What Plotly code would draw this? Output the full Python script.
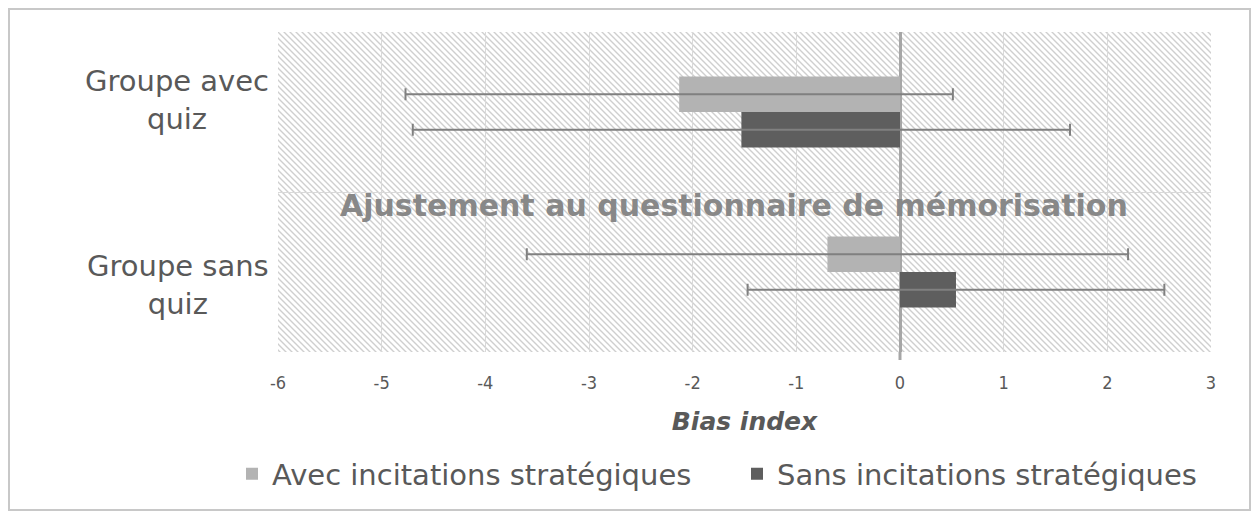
import base64
import plotly.graph_objects as go

# ---- data ----
categories = ["Groupe avec quiz", "Groupe sans quiz"]
category_labels = ["Groupe avec<br>quiz", "Groupe sans<br>quiz"]
series_names = ["Avec incitations stratégiques", "Sans incitations stratégiques"]
avec_values = [-2.13, -0.70]
avec_errors = [2.64, 2.90]
sans_values = [-1.53, 0.54]
sans_errors = [3.17, 2.01]
x_ticks = [-6, -5, -4, -3, -2, -1, 0, 1, 2, 3]
x_tick_labels = ["-6", "-5", "-4", "-3", "-2", "-1", "0", "1", "2", "3"]
chart_title = "Ajustement au questionnaire de mémorisation"
x_title = "Bias index"

# ---- styling ----
# the page body has an 8px margin, so the figure is drawn 8px smaller and offset
OFF = 8
W, H = 1259 - OFF, 513 - OFF
ML, MT = 278 - OFF, 32 - OFF
PW, PH = 933, 320
MR, MB = W - ML - PW, H - MT - PH


def px_x(x):  # reference page pixel -> paper x
    return (x - OFF - ML) / PW


def px_y(y):  # reference page pixel -> paper y
    return (MT + PH - (y - OFF)) / PH


light = "#b3b3b3"
dark = "#5e5e5e"
err_color = "#808080"
text_color = "#595959"

# hatched plot background (decoration)
svg = (
    f'<svg xmlns="http://www.w3.org/2000/svg" width="{PW}" height="{PH}">'
    '<defs><pattern id="p" width="6" height="6" patternUnits="userSpaceOnUse">'
    '<path d="M-1,-1 L7,7 M-1,5 L1,7 M5,-1 L7,1" stroke="#cfcfcf" stroke-width="1.4"/>'
    '</pattern></defs><rect width="100%" height="100%" fill="url(#p)"/></svg>'
)
svg_uri = "data:image/svg+xml;base64," + base64.b64encode(svg.encode()).decode()

fig = go.Figure()
fig.add_trace(go.Bar(
    name=series_names[0], y=categories, x=avec_values, orientation="h",
    marker=dict(color=light, line=dict(width=0)),
    error_x=dict(type="data", array=avec_errors, visible=True,
                 color=err_color, thickness=2, width=6),
))
fig.add_trace(go.Bar(
    name=series_names[1], y=categories, x=sans_values, orientation="h",
    marker=dict(color=dark, line=dict(width=0)),
    error_x=dict(type="data", array=sans_errors, visible=True,
                 color=err_color, thickness=2, width=6),
))

label_shifts = [12, -13]
annotations = []
for cat, lab, ys in zip(categories, category_labels, label_shifts):
    annotations.append(dict(
        x=0, xref="paper", xanchor="right", xshift=-7,
        y=cat, yref="y", yshift=ys, text=lab, showarrow=False, align="center",
        font=dict(family="DejaVu Sans, Arial, sans-serif", size=29, color=text_color),
    ))
annotations.append(dict(
    x=px_x(734), xref="paper", y=px_y(205), yref="paper",
    text="<b>" + chart_title + "</b>", showarrow=False, xanchor="center", yanchor="middle",
    font=dict(family="DejaVu Sans, Arial, sans-serif", size=30, color="#888888"),
))

fig.update_layout(
    width=W, height=H,
    margin=dict(l=ML, r=MR, t=MT, b=MB),
    paper_bgcolor="white",
    plot_bgcolor="rgba(0,0,0,0)",
    barmode="group", bargap=0.556, bargroupgap=0,
    showlegend=True,
    legend=dict(
        orientation="h", x=px_x(232), xanchor="left",
        y=px_y(474), yanchor="middle",
        bgcolor="rgba(0,0,0,0)",
        font=dict(family="DejaVu Sans, sans-serif", size=29, color=text_color),
        itemwidth=30, traceorder="normal",
        entrywidth=460, entrywidthmode="pixels",
    ),
    xaxis=dict(
        range=[x_ticks[0], x_ticks[-1]], tickvals=x_ticks, ticktext=x_tick_labels,
        showgrid=True, gridcolor="#d9d9d9", gridwidth=1,
        zeroline=True, zerolinecolor="#a6a6a6", zerolinewidth=3,
        showline=False, ticks="", ticklabelstandoff=18,
        tickfont=dict(family="Liberation Sans Narrow, DejaVu Sans Condensed, Arial Narrow, sans-serif",
                      size=18, color=text_color),
        title=dict(text="<b><i>" + x_title + "</i></b>", standoff=20,
                   font=dict(family="DejaVu Sans, Arial, sans-serif", size=25, color=text_color)),
    ),
    yaxis=dict(
        type="category", categoryorder="array", categoryarray=categories,
        autorange="reversed", tickson="boundaries",
        showgrid=True, gridcolor="#d9d9d9", gridwidth=1,
        showticklabels=False, ticks="", showline=False, zeroline=False,
    ),
    images=[dict(source=svg_uri, xref="paper", yref="paper", x=0, y=1,
                 sizex=1, sizey=1, sizing="stretch", xanchor="left", yanchor="top",
                 layer="below")],
    annotations=annotations,
    shapes=[
        dict(type="rect", xref="paper", yref="paper",
             x0=px_x(9), x1=px_x(1250), y0=px_y(510), y1=px_y(9),
             line=dict(color="#c8c8c8", width=2), fillcolor="rgba(0,0,0,0)",
             layer="below"),
        # small tick of the vertical axis below the plot area
        dict(type="line", xref="x", yref="paper", x0=0, x1=0,
             y0=0, y1=px_y(360), line=dict(color="#a6a6a6", width=3)),
    ],
)

fig.write_html("out.html")
